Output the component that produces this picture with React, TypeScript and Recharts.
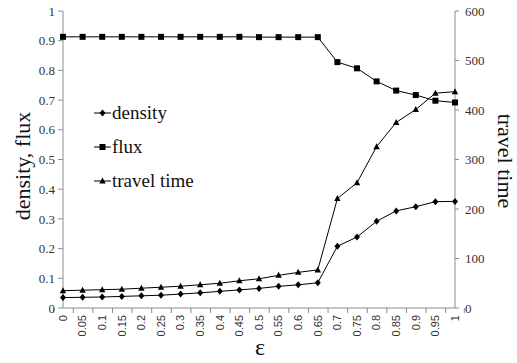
import { ComposedChart, Legend, Line, XAxis, YAxis } from 'recharts';

const epsilon = ['0', '0.05', '0.1', '0.15', '0.2', '0.25', '0.3', '0.35', '0.4', '0.45', '0.5', '0.55', '0.6', '0.65', '0.7', '0.75', '0.8', '0.85', '0.9', '0.95', '1'];
const density = [0.035, 0.036, 0.037, 0.039, 0.041, 0.043, 0.047, 0.051, 0.056, 0.061, 0.066, 0.073, 0.078, 0.085, 0.208, 0.239, 0.292, 0.327, 0.341, 0.358, 0.359];
const flux = [0.913, 0.913, 0.913, 0.913, 0.913, 0.913, 0.913, 0.913, 0.913, 0.913, 0.912, 0.912, 0.912, 0.912, 0.828, 0.807, 0.763, 0.732, 0.717, 0.698, 0.692];
const travelTime = [35, 36, 37, 38, 40, 42, 44, 47, 50, 55, 59, 66, 72, 77, 221, 253, 326, 375, 401, 434, 437];
const leftTicks = [0, 0.1, 0.2, 0.3, 0.4, 0.5, 0.6, 0.7, 0.8, 0.9, 1];
const rightTicks = [0, 100, 200, 300, 400, 500, 600];

const data = epsilon.map((eps, i) => ({
  eps,
  density: density[i],
  flux: flux[i],
  travel: travelTime[i],
}));

const AXIS = '#8c8c8c';
const SERIF = 'Liberation Serif, Times New Roman, DejaVu Serif, serif';
const SANS = 'Liberation Sans, Arial, sans-serif';
const PLOT_W = 517 - 63 - 62;

type Kind = 'diamond' | 'square' | 'triangle';

function Marker({ cx, cy, kind }: { cx: number; cy: number; kind: Kind }) {
  if (kind === 'square') return <rect x={cx - 3} y={cy - 3} width={6} height={6} fill="#000" />;
  if (kind === 'triangle')
    return <polygon points={`${cx},${cy - 3.5} ${cx + 3.2},${cy + 2.5} ${cx - 3.2},${cy + 2.5}`} fill="#000" />;
  return <polygon points={`${cx},${cy - 3.5} ${cx + 3},${cy} ${cx},${cy + 3.5} ${cx - 3},${cy}`} fill="#000" />;
}

const kinds: Record<string, Kind> = { density: 'diamond', flux: 'square', travel: 'triangle' };

function dotFor(kind: Kind) {
  return (p: any) => <Marker key={`${kind}-${p.index}`} cx={p.cx} cy={p.cy} kind={kind} />;
}

function EpsTick(props: any) {
  const { x, y, payload, index } = props;
  const half = payload.offset || PLOT_W / 42;
  return (
    <g transform={`translate(${x},${y})`}>
      <line x1={-half} y1={0} x2={-half} y2={5} stroke={AXIS} />
      {index === epsilon.length - 1 && <line x1={half} y1={0} x2={half} y2={5} stroke={AXIS} />}
      <text transform="rotate(-90)" x={-7} y={0} dy="0.35em" textAnchor="end" style={{ fontFamily: SANS }} fontSize={11} fill="#333">
        {payload.value}
      </text>
    </g>
  );
}

function LegendBox({ payload }: any) {
  return (
    <div>
      {(payload || []).map((item: any) => (
        <div key={item.value} style={{ height: 34, display: 'flex', alignItems: 'center' }}>
          <svg width={17} height={12} style={{ marginRight: 1 }}>
            <line x1={0} y1={6} x2={17} y2={6} stroke="#000" />
            <Marker cx={8.5} cy={6} kind={kinds[item.dataKey]} />
          </svg>
          <span style={{ fontFamily: SERIF, fontSize: 19, color: '#111' }}>{item.value}</span>
        </div>
      ))}
    </div>
  );
}

export default function App() {
  return (
    <div style={{ position: 'absolute', left: 0, top: 0, fontFamily: SERIF }}>
      <ComposedChart width={517} height={363} data={data} margin={{ top: 11, right: 0, bottom: 0, left: 0 }} style={{ fontFamily: SERIF }}>
        <XAxis
          dataKey="eps"
          interval={0}
          height={55}
          tickLine={false}
          tickSize={0}
          tickMargin={0}
          stroke={AXIS}
          tick={<EpsTick />}
          label={{
            content: () => (
              <text x={260} y={347} textAnchor="middle" dominantBaseline="central" style={{ fontFamily: SERIF }} fontSize={24} fill="#111">
                ε
              </text>
            ),
          }}
        />
        <YAxis
          yAxisId="left"
          width={63}
          domain={[0, 1]}
          ticks={leftTicks}
          tickFormatter={(v: number) => String(Math.round(v * 10) / 10)}
          stroke={AXIS}
          tickSize={5}
          tickMargin={3}
          tick={{ style: { fontFamily: SERIF }, fontSize: 13, fill: '#333' }}
          label={{
            content: () => (
              <text x={22} y={166} transform="rotate(-90,22,166)" textAnchor="middle" dominantBaseline="central" style={{ fontFamily: SERIF }} fontSize={22} fill="#111">
                density, flux
              </text>
            ),
          }}
        />
        <YAxis
          yAxisId="right"
          orientation="right"
          width={62}
          domain={[0, 600]}
          ticks={rightTicks}
          stroke={AXIS}
          tickSize={4}
          tickMargin={6}
          tick={{ style: { fontFamily: SERIF }, fontSize: 13, fill: '#333' }}
          label={{
            content: () => (
              <text x={505} y={161} transform="rotate(90,505,161)" textAnchor="middle" dominantBaseline="central" style={{ fontFamily: SERIF }} fontSize={22} fill="#111">
                travel time
              </text>
            ),
          }}
        />
        <Legend layout="vertical" align="center" verticalAlign="middle" content={<LegendBox />} wrapperStyle={{ left: 94, top: 96, width: 'auto' }} />
        <Line yAxisId="left" dataKey="density" name="density" type="linear" stroke="#000" strokeWidth={1} dot={dotFor('diamond')} activeDot={false} isAnimationActive={false} />
        <Line yAxisId="left" dataKey="flux" name="flux" type="linear" stroke="#000" strokeWidth={1} dot={dotFor('square')} activeDot={false} isAnimationActive={false} />
        <Line yAxisId="right" dataKey="travel" name="travel time" type="linear" stroke="#000" strokeWidth={1} dot={dotFor('triangle')} activeDot={false} isAnimationActive={false} />
      </ComposedChart>
    </div>
  );
}
